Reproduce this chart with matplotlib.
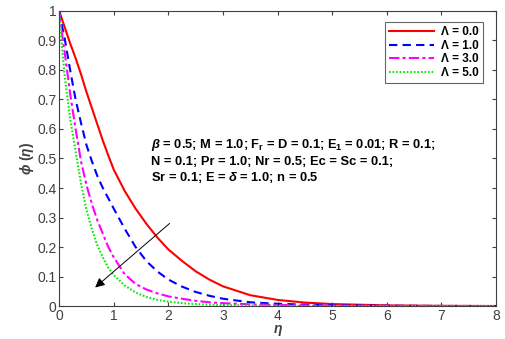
import matplotlib
matplotlib.use("Agg")
import matplotlib.pyplot as plt

plt.rcParams["font.family"] = ["Liberation Sans", "DejaVu Sans"]
plt.rcParams["mathtext.fontset"] = "custom"
plt.rcParams["mathtext.rm"] = "Liberation Sans:bold"
plt.rcParams["mathtext.bf"] = "Liberation Sans:bold"
plt.rcParams["mathtext.it"] = "Liberation Sans:italic:bold"

# data
eta = [0, 0.05, 0.1, 0.2, 0.3, 0.4, 0.5, 0.6, 0.7, 0.8, 0.9, 1.0, 1.2, 1.4, 1.6,
       1.8, 2.0, 2.25, 2.5, 2.75, 3.0, 3.5, 4.0, 4.5, 5.0, 6.0, 7.0, 8.0]
phi_L0 = [1, 0.972, 0.945, 0.89, 0.84, 0.785, 0.725, 0.67, 0.615, 0.56, 0.51, 0.462,
          0.39, 0.33, 0.278, 0.232, 0.192, 0.153, 0.118, 0.09, 0.067, 0.037, 0.021,
          0.012, 0.007, 0.0025, 0.001, 0.0004]
phi_L1 = [1, 0.95, 0.907, 0.8, 0.7, 0.62, 0.545, 0.49, 0.44, 0.4, 0.365, 0.33,
          0.262, 0.2, 0.152, 0.117, 0.09, 0.066, 0.048, 0.035, 0.025, 0.013, 0.008,
          0.005, 0.003, 0.0012, 0.0005, 0.0002]
phi_L3 = [1, 0.925, 0.86, 0.72, 0.6, 0.49, 0.41, 0.345, 0.29, 0.245, 0.2, 0.165,
          0.108, 0.075, 0.056, 0.043, 0.033, 0.025, 0.018, 0.013, 0.01, 0.006, 0.004,
          0.0025, 0.0015, 0.0006, 0.0003, 0.0001]
phi_L5 = [1, 0.88, 0.78, 0.635, 0.525, 0.415, 0.325, 0.26, 0.205, 0.165, 0.13, 0.105,
          0.07, 0.046, 0.031, 0.021, 0.015, 0.01, 0.007, 0.005, 0.0035, 0.002, 0.001,
          0.0006, 0.0004, 0.0002, 0.0001, 0]
labels = ["Λ = 0.0", "Λ = 1.0", "Λ = 3.0", "Λ = 5.0"]

fig = plt.figure(figsize=(5.06, 3.39), dpi=100)
ax = fig.add_axes([0.117, 0.097, 0.863, 0.871])

gray = "#404040"
ax.plot(eta, phi_L0, color="#ff0000", lw=1.5, ls="-", label=labels[0])
ax.plot(eta, phi_L1, color="#0000ff", lw=1.5, ls=(0, (4, 2.5)), label=labels[1])
ax.plot(eta, phi_L3, color="#ff00ff", lw=1.5, ls=(0, (5, 1.5, 1.5, 1.5)), label=labels[2])
ax.plot(eta, phi_L5, color="#00ee00", lw=1.5, ls=(0, (0.8, 0.9)), label=labels[3])

ax.set_xlim(0, 8)
ax.set_ylim(0, 1)
ax.set_xticks(range(0, 9))
ax.set_yticks([i / 10 for i in range(11)])
ax.set_yticklabels(["0", "0.1", "0.2", "0.3", "0.4", "0.5", "0.6", "0.7", "0.8", "0.9", "1"])
ax.tick_params(direction="in", top=True, right=True, length=3, width=0.8,
               labelsize=10, colors=gray, labelcolor=gray, pad=2)
for s in ax.spines.values():
    s.set_color(gray)
    s.set_linewidth(0.8)

ax.set_xlabel(r"$\eta$", fontsize=10, color=gray, labelpad=0)
ax.set_ylabel(r"$\phi$ $(\eta)$", fontsize=10, color=gray, labelpad=1)

leg = ax.legend(loc="upper right", bbox_to_anchor=(0.971, 0.963),
                prop={"weight": "bold", "size": 8.5}, frameon=True, fancybox=False,
                edgecolor=gray, handlelength=3.8, borderpad=0.35, labelspacing=0.15,
                handletextpad=0.6, borderaxespad=0)
leg.get_frame().set_linewidth(0.8)

txt = ("$\\beta$ = 0.5; M = 1.0; F$_\\mathbf{r}$ = D = 0.1; E$_\\mathbf{1}$ = 0.01; R = 0.1;\n"
       "N = 0.1; Pr = 1.0; Nr = 0.5; Ec = Sc = 0.1;\n"
       "Sr = 0.1; E = $\\delta$ = 1.0; n = 0.5")
ax.text(1.69, 0.49, txt, fontsize=9.3, fontweight="bold", ha="left", va="center",
        linespacing=1.25)

ax.annotate("", xy=(0.62, 0.057), xytext=(2.06, 0.286),
            arrowprops=dict(arrowstyle="-|>", color="black", lw=0.7,
                            mutation_scale=14))

fig.savefig("out.png", dpi=100)
